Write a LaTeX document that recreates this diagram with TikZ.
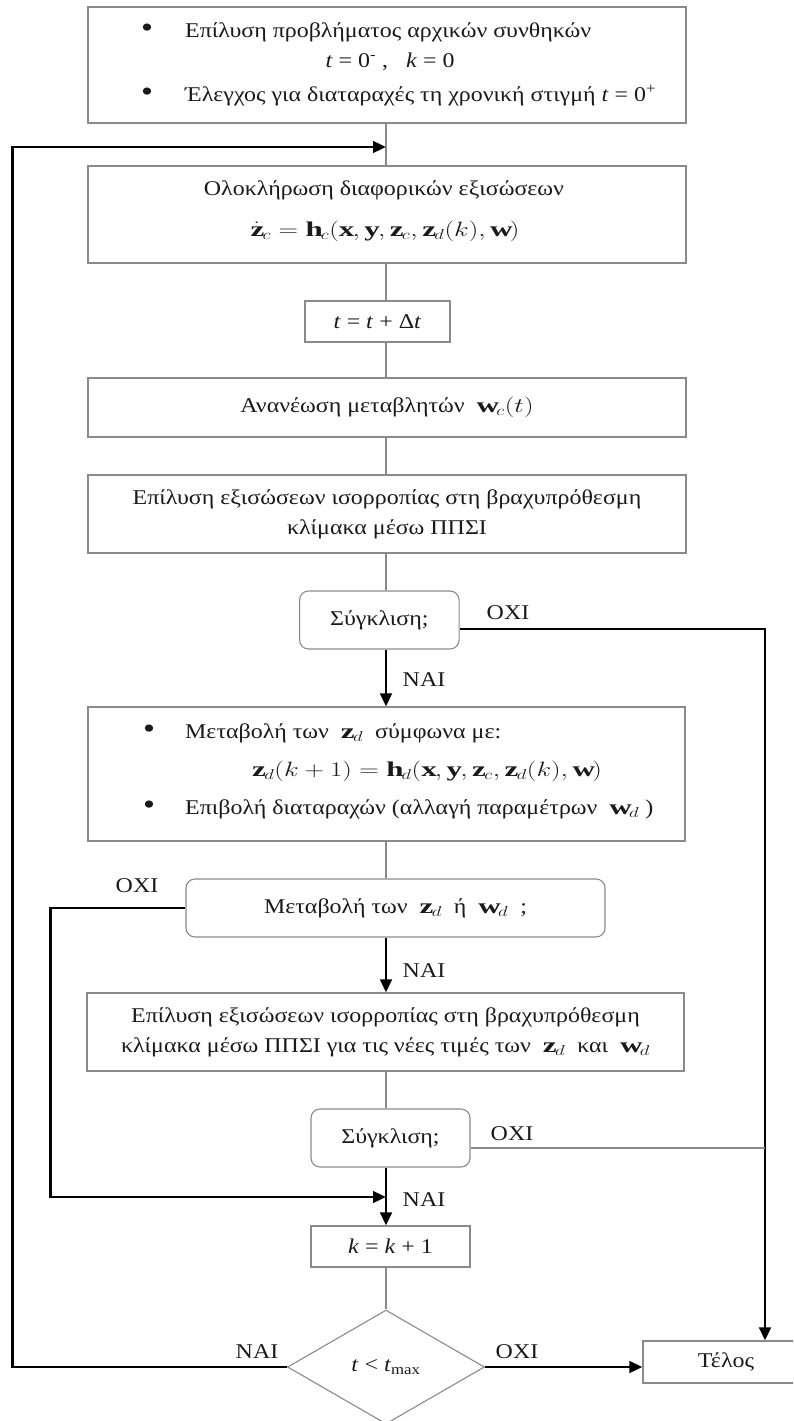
\documentclass[tikz,border=0pt]{standalone}
\usepackage{fontspec}
\setmainfont{Liberation Serif}[FakeStretch=1.14]
\usetikzlibrary{arrows.meta,shapes.geometric}
\definecolor{boxgray}{HTML}{8A8A8A}
\definecolor{ink}{HTML}{1A1A1A}
% widened maths, to sit with the widened text face
\newcommand{\widemath}[1]{\scalebox{1.3}[1]{$#1$}}
\newcommand{\bigdot}{{\fontsize{30}{30}\selectfont\textbullet}}

\begin{document}
\begin{tikzpicture}[x=1pt,y=-1pt,
  every node/.style={font=\fontsize{21}{30}\selectfont, text=ink, inner sep=0pt},
  box/.style={draw=boxgray, line width=1.1pt, align=center},
  rbox/.style={box, rounded corners=9pt},
  txt/.style={text height=14pt, text depth=4pt},
  thinline/.style={draw=boxgray, line width=1.1pt},
  thickline/.style={draw=black, line width=2.8pt},
  tip/.style={-{Triangle[length=13pt,width=11.5pt]}},
]
\clip (0,0) rectangle (793,1421);

% guide lines
\coordinate (spine) at (386,0);
\coordinate (lx) at (12.6,0);
\coordinate (mx) at (50.6,0);
\coordinate (rx) at (765,0);
\coordinate (join1) at (386,147);
\coordinate (join2) at (386,1197);

% initial conditions
\node[box, minimum width=598pt, minimum height=116pt] (b1) at (387,65) {};
\node[txt] (b1d1) at (147,33) {\bigdot};
\node[txt, anchor=west] (b1t1) at (185,33) {Επίλυση προβλήματος αρχικών συνθηκών};
\node[txt] (b1t2) at (390,62) {\textit{t} = 0\textsuperscript{-}\ ,\ \ \ \textit{k} = 0};
\node[txt] (b1d2) at (147,96) {\bigdot};
\node[txt, anchor=west] (b1t3) at (185,96) {Έλεγχος για διαταραχές τη χρονική στιγμή \textit{t} = 0\textsuperscript{+}};

% integration of the differential equations
\node[box, minimum width=598pt, minimum height=97pt] (b2) at (387,214.5) {};
\node[txt] (b2t1) at (384,190) {Ολοκλήρωση διαφορικών εξισώσεων};
\node[txt] (b2t2) at (385,231) {\widemath{\dot{\mathbf{z}}_c = \mathbf{h}_c(\mathbf{x},\mathbf{y},\mathbf{z}_c,\mathbf{z}_d(k),\mathbf{w})}};

% time step
\node[box, minimum width=145pt, minimum height=41pt] (dt) at (377.5,321.5) {\textit{t} = \textit{t} + Δ\textit{t}};

% update of w_c
\node[box, minimum width=598pt, minimum height=59pt] (wc) at (387,407.5) {Ανανέωση μεταβλητών \ \widemath{\mathbf{w}_c(t)}};

% short-term equilibrium
\node[box, minimum width=598pt, minimum height=78pt] (eq1) at (387,514) {Επίλυση εξισώσεων ισορροπίας στη βραχυπρόθεσμη\\κλίμακα μέσω ΠΠΣΙ};

% convergence test
\node[rbox, minimum width=159.5pt, minimum height=58pt] (s1) at (379.3,620) {Σύγκλιση;};

% discrete variables and disturbances
\node[box, minimum width=597pt, minimum height=134pt] (zd) at (386.5,774) {};
\node[txt] (zdd1) at (149,733) {\bigdot};
\node[txt, anchor=west] (zdt1) at (185,733) {Μεταβολή των \ \widemath{\mathbf{z}_d} \ σύμφωνα με:};
\node[txt] (zdt2) at (427,771) {\widemath{\mathbf{z}_d(k+1) = \mathbf{h}_d(\mathbf{x},\mathbf{y},\mathbf{z}_c,\mathbf{z}_d(k),\mathbf{w})}};
\node[txt] (zdd2) at (149,809) {\bigdot};
\node[txt, anchor=west] (zdt3) at (185,809) {Επιβολή διαταραχών (αλλαγή παραμέτρων \ \widemath{\mathbf{w}_d} )};

% change test
\node[rbox, minimum width=419pt, minimum height=58pt] (m) at (395.5,908) {Μεταβολή των \ \widemath{\mathbf{z}_d} \ ή \ \widemath{\mathbf{w}_d} \ ;};

% equilibrium for the new values
\node[box, minimum width=597pt, minimum height=78pt] (eq2) at (385.5,1032) {Επίλυση εξισώσεων ισορροπίας στη βραχυπρόθεσμη\\κλίμακα μέσω ΠΠΣΙ για τις νέες τιμές των \ \widemath{\mathbf{z}_d} \ και \ \widemath{\mathbf{w}_d}};

% second convergence test
\node[rbox, minimum width=159pt, minimum height=58pt] (s2) at (390.5,1138) {Σύγκλιση;};

% step counter
\node[box, minimum width=159pt, minimum height=41pt] (k) at (390.5,1246.5) {\textit{k} = \textit{k} + 1};

% time test
\node[draw=boxgray, line width=1.1pt, diamond, minimum width=197pt, minimum height=114pt] (dia) at (386,1367) {\textit{t} < \textit{t}\textsubscript{max}};

% end
\node[box, minimum width=166pt, minimum height=42pt] (end) at (726,1362) {Τέλος};

% labels
\node (oxi1) at (508,613) {ΟΧΙ};
\node (nai1) at (424,680) {ΝΑΙ};
\node (oxi2) at (137,886) {ΟΧΙ};
\node (nai2) at (424,971) {ΝΑΙ};
\node (oxi3) at (512,1134) {ΟΧΙ};
\node (nai3) at (424,1200) {ΝΑΙ};
\node (nai4) at (257,1352) {ΝΑΙ};
\node (oxi4) at (517,1352) {ΟΧΙ};

% main flow (thin)
\draw[thinline] (spine |- b1.south) -- (spine |- b2.north);
\draw[thinline] (spine |- b2.south) -- (spine |- dt.north);
\draw[thinline] (spine |- dt.south) -- (spine |- wc.north);
\draw[thinline] (spine |- wc.south) -- (spine |- eq1.north);
\draw[thinline] (spine |- eq1.south) -- (spine |- s1.north);
\draw[thinline] (spine |- zd.south) -- (spine |- m.north);
\draw[thinline] (spine |- eq2.south) -- (spine |- s2.north);
\draw[thinline] (spine |- k.south) -- (dia.north);

% decisions (thick)
\draw[thickline, tip] (spine |- s1.south) -- (spine |- zd.north);
\draw[thickline, tip] (spine |- m.south) -- (spine |- eq2.north);
\draw[thickline, tip] (spine |- s2.south) -- (spine |- k.north);

\coordinate (s1o) at ([yshift=-9pt]s1.east);
\draw[thickline, tip] (s1o) -- (s1o -| rx) -- (rx |- end.north);

\coordinate (s2o) at ([yshift=-10pt]s2.east);
\draw[thinline] (s2o) -- (s2o -| rx);

\draw[thickline, tip] (m.west) -- (m.west -| mx) -- (mx |- join2) -- (join2);

\draw[thickline, tip] (dia.west) -- (dia.west -| lx) -- (lx |- join1) -- (join1);

\draw[thickline, tip] (dia.east) -- (dia.east -| end.west);
\end{tikzpicture}
\end{document}
